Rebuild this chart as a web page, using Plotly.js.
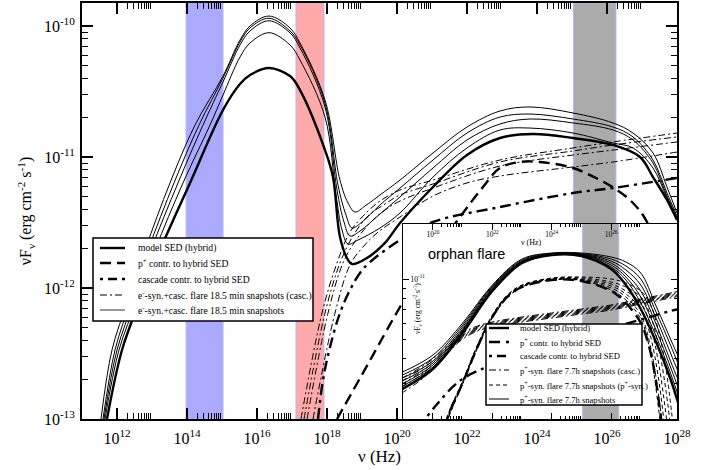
<!DOCTYPE html>
<html><head><meta charset="utf-8">
<script src="https://cdn.plot.ly/plotly-3.0.1.min.js"></script>
<style>html,body{margin:0;padding:0;background:#fff}#chart{width:712px;height:470px}</style>
</head><body><div id="chart"></div>
<script>
// ===== DATA: log10(nu / Hz) and log10(nuFnu / erg cm^-2 s^-1) =====
// main panel: hybrid model
const modelNu = [11.714,12.143,12.657,13.229,14.086,15.029,15.514,15.8,16.343,16.943,17.229,17.943,18.171,18.371,18.6,18.714,19.143,19.657,20.086,21.029,22.0,22.943,23.886,25.029,26.171,26.943,27.314,27.714,28.0];
const modelF  = [-13.0,-12.473,-12.092,-11.710,-11.198,-10.641,-10.443,-10.374,-10.321,-10.382,-10.489,-10.947,-11.153,-11.611,-11.786,-11.817,-11.771,-11.656,-11.504,-11.229,-10.985,-10.855,-10.824,-10.855,-10.908,-11.0,-11.153,-11.328,-11.481];
const protonNu = [18.286,19.171,20.086,20.943,21.8,22.457,22.943,23.514,24.086,25.029,25.8,26.286,26.743,27.143,27.514,27.8,27.971];
const protonF  = [-13.0,-12.580,-12.145,-11.771,-11.458,-11.229,-11.084,-11.038,-11.038,-11.084,-11.176,-11.252,-11.351,-11.496,-11.802,-12.321,-13.0];
const cascadeNu = [17.743,17.886,18.086,18.371,18.657,18.943,19.229,20.086,21.029,22.943,25.029,26.171,28.0];
const cascadeF  = [-13.0,-12.702,-12.450,-12.191,-12.015,-11.885,-11.802,-11.634,-11.496,-11.382,-11.275,-11.237,-11.160];
// e- synchrotron + cascade flare, 18.5 min snapshots (totals)
const snapANu = [11.543,11.857,12.314,12.8,13.514,14.229,15.029,15.514,15.8,16.343,16.943,17.229,17.943,18.371,18.6,18.8,19.086,19.514,20.086,21.029,22.0,22.943,23.8,25.029,26.171,26.743,27.314,27.714,28.0];
const snapAF  = [-13.0,-12.473,-12.092,-11.710,-11.198,-10.756,-10.382,-10.107,-10.0,-9.924,-10.015,-10.130,-10.565,-11.176,-11.351,-11.420,-11.374,-11.290,-11.176,-10.969,-10.771,-10.649,-10.618,-10.664,-10.740,-10.817,-10.969,-11.229,-11.427];
const snapBNu = [11.6,11.943,12.4,12.886,13.629,14.343,15.029,15.514,15.8,16.343,16.943,17.229,17.943,18.314,18.543,18.714,19.0,19.514,20.086,21.029,22.0,22.943,23.8,25.029,26.171,26.743,27.314,27.714,28.0];
const snapBF  = [-13.0,-12.473,-12.092,-11.710,-11.198,-10.756,-10.397,-10.122,-10.015,-9.941,-10.038,-10.145,-10.588,-11.214,-11.443,-11.542,-11.496,-11.366,-11.237,-11.023,-10.817,-10.695,-10.672,-10.710,-10.771,-10.847,-11.023,-11.275,-11.450];
const snapCNu = [11.629,12.0,12.486,12.971,13.743,14.457,15.029,15.514,15.8,16.343,16.943,17.229,17.943,18.286,18.486,18.657,18.943,19.514,20.086,21.029,22.0,22.943,23.8,25.029,26.171,26.743,27.314,27.714,28.0];
const snapCF  = [-13.0,-12.473,-12.092,-11.710,-11.198,-10.756,-10.427,-10.145,-10.038,-9.960,-10.053,-10.168,-10.618,-11.252,-11.496,-11.603,-11.565,-11.435,-11.305,-11.084,-10.870,-10.748,-10.710,-10.740,-10.794,-10.870,-11.046,-11.298,-11.466];
const snapDNu = [11.657,12.057,12.571,13.086,13.886,14.657,15.029,15.514,15.8,16.343,16.943,17.229,17.943,18.257,18.429,18.6,18.886,19.514,20.086,21.029,22.0,22.943,23.8,25.029,26.171,26.743,27.314,27.714,28.0];
const snapDF  = [-13.0,-12.473,-12.092,-11.710,-11.198,-10.756,-10.527,-10.237,-10.130,-10.051,-10.145,-10.260,-10.695,-11.290,-11.557,-11.664,-11.634,-11.542,-11.427,-11.153,-10.931,-10.794,-10.779,-10.817,-10.893,-10.931,-11.084,-11.313,-11.473];
// cascade components of the snapshots
const cascANu = [17.257,17.857,18.286,18.657,19.086,19.514,20.086,21.029,22.943,25.029,26.171,28.0];
const cascAF  = [-13.0,-12.191,-11.809,-11.573,-11.435,-11.336,-11.252,-11.176,-11.023,-10.931,-10.885,-10.817];
const cascBNu = [17.343,17.943,18.371,18.743,19.171,19.657,20.086,21.029,22.943,25.029,26.171,28.0];
const cascBF  = [-13.0,-12.191,-11.809,-11.603,-11.450,-11.359,-11.290,-11.206,-11.038,-10.954,-10.908,-10.847];
const cascCNu = [17.429,18.029,18.457,18.829,19.257,19.657,20.086,21.029,22.943,25.029,26.171,28.0];
const cascCF  = [-13.0,-12.191,-11.809,-11.634,-11.496,-11.405,-11.336,-11.237,-11.069,-10.985,-10.947,-10.885];
const cascDNu = [17.6,18.229,18.657,19.0,19.429,20.086,21.029,22.0,22.943,25.029,26.171,28.0];
const cascDF  = [-13.0,-12.191,-11.824,-11.695,-11.580,-11.458,-11.298,-11.198,-11.145,-11.076,-11.038,-10.962];

// inset ("orphan flare")
const insetNu = [18.9,20,21,22,23,24,25,26,26.5,27,27.5,28,28.3];
const insetModelF = [-11.555,-11.45,-11.27,-11.06,-10.92,-10.88,-10.885,-10.95,-11.03,-11.15,-11.31,-11.50,-11.64];
const insetSnap1F = [-11.47,-11.38,-11.22,-11.03,-10.90,-10.87,-10.87,-10.89,-10.915,-10.97,-11.13,-11.30,-11.40];
const insetSnap2F = [-11.485,-11.395,-11.23,-11.035,-10.905,-10.872,-10.873,-10.90,-10.935,-11.0,-11.16,-11.33,-11.44];
const insetSnap3F = [-11.50,-11.41,-11.24,-11.04,-10.91,-10.874,-10.876,-10.91,-10.955,-11.03,-11.19,-11.37,-11.48];
const insetSnap4F = [-11.515,-11.42,-11.25,-11.045,-10.912,-10.876,-10.878,-10.92,-10.975,-11.06,-11.22,-11.41,-11.52];
const insetSnap5F = [-11.53,-11.43,-11.255,-11.05,-10.915,-10.878,-10.88,-10.93,-10.99,-11.09,-11.25,-11.44,-11.56];
const insetSnap6F = [-11.54,-11.44,-11.26,-11.055,-10.918,-10.879,-10.882,-10.94,-11.005,-11.12,-11.28,-11.47,-11.60];
const insetProtonNu = [20.3,20.5,21,21.5,22,22.5,23,24,25,26,26.5,27,27.3,27.5,27.7];
const insetProtonF  = [-11.82,-11.69,-11.52,-11.34,-11.19,-11.09,-11.04,-11.005,-11.01,-11.06,-11.12,-11.22,-11.35,-11.50,-11.72];
const insetPSynNu = [20.3,20.5,21,21.5,22,22.5,23,24,25,26,26.5,27,27.3,27.6,27.85,28.1];
const insetPSyn1F = [-11.80,-11.68,-11.51,-11.33,-11.18,-11.08,-11.03,-10.995,-10.99,-11.0,-11.02,-11.06,-11.12,-11.26,-11.45,-11.75];
const insetPSyn2F = [-11.805,-11.685,-11.513,-11.333,-11.183,-11.083,-11.032,-10.997,-10.995,-11.015,-11.04,-11.09,-11.17,-11.34,-11.56,-11.87];
const insetPSyn3F = [-11.81,-11.69,-11.516,-11.336,-11.186,-11.086,-11.034,-10.999,-11.0,-11.025,-11.06,-11.12,-11.22,-11.42,-11.68,-12.0];
const insetPSyn4F = [-11.815,-11.695,-11.519,-11.339,-11.189,-11.089,-11.036,-11.001,-11.003,-11.035,-11.075,-11.15,-11.27,-11.5,-11.8,-12.1];
const insetPSyn5F = [-11.82,-11.70,-11.522,-11.342,-11.192,-11.092,-11.038,-11.003,-11.005,-11.045,-11.09,-11.18,-11.32,-11.58,-11.9,-12.2];
const insetPSyn6F = [-11.825,-11.705,-11.525,-11.345,-11.195,-11.095,-11.04,-11.005,-11.008,-11.055,-11.105,-11.2,-11.35,-11.65,-12.0,-12.3];
const insetCascNu = [18.9,19.5,20,20.5,21,21.5,22,23,24,25,26,27,28,28.3];
const insetCasc1F = [-11.50,-11.45,-11.40,-11.33,-11.27,-11.235,-11.215,-11.19,-11.17,-11.15,-11.13,-11.10,-11.07,-11.06];
const insetCasc2F = [-11.515,-11.46,-11.41,-11.34,-11.28,-11.24,-11.22,-11.195,-11.175,-11.155,-11.135,-11.105,-11.075,-11.065];
const insetCasc3F = [-11.53,-11.475,-11.42,-11.35,-11.285,-11.245,-11.225,-11.2,-11.18,-11.16,-11.14,-11.11,-11.08,-11.07];
const insetCasc4F = [-11.545,-11.49,-11.43,-11.36,-11.29,-11.25,-11.23,-11.205,-11.185,-11.165,-11.145,-11.115,-11.085,-11.075];
const insetCasc5F = [-11.56,-11.50,-11.44,-11.365,-11.295,-11.255,-11.235,-11.21,-11.19,-11.17,-11.15,-11.12,-11.09,-11.08];
const insetCasc6F = [-11.575,-11.515,-11.45,-11.37,-11.30,-11.26,-11.24,-11.215,-11.195,-11.175,-11.155,-11.125,-11.095,-11.085];
const insetCascModelNu = [19.5,20.09,21.03,22.94,25.03,26.17,28.0,28.3];
const insetCascModelF  = [-11.75,-11.634,-11.496,-11.382,-11.275,-11.237,-11.16,-11.15];

// observing bands (Hz)
const bandOptical = [9.4e13, 1.07e15];
const bandXray = [1.3e17, 8.2e17];
const bandGamma = [1.1e25, 1.8e26];

// tick labels
const mainXTickExp = [12,14,16,18,20,22,24,26,28];
const mainYTickExp = [-13,-12,-11,-10];
const insetXTickExp = [20,22,24,26];
const insetYTickExp = [-11];

// legend labels
const mainLegend = ['model SED (hybrid)','p<sup>+</sup> contr. to hybrid SED','cascade contr. to hybrid SED','e<sup>-</sup>-syn.+casc. flare 18.5 min snapshots (casc.)','e<sup>-</sup>-syn.+casc. flare 18.5 min snapshots'];
const insetLegend = ['model SED (hybrid)','p<sup>+</sup> contr. to hybrid SED','cascade contr. to hybrid SED','p<sup>+</sup>-syn. flare 7.7h snapshots (casc.)','p<sup>+</sup>-syn. flare 7.7h snapshots (p<sup>+</sup>-syn.)','p<sup>+</sup>-syn. flare 7.7h snapshots'];

// ===== styles =====
const SERIF = 'Liberation Serif, Times New Roman, serif';
const S = {
  thick:      {color:'#000', width:2.4},
  thin:       {color:'#000', width:1},
  thickDash:  {color:'#000', width:2.4, dash:'11px,6px'},
  thickDot:   {color:'#000', width:2.4, dash:'11px,5px,3px,5px'},
  thinDashDot:{color:'#000', width:1, dash:'7px,3px,2px,3px'},
  thinDash:   {color:'#000', width:1, dash:'4px,3px'}
};
const pow10 = v => Math.pow(10, v);
function curve(nu, f, style, xa, ya) {
  return {type:'scatter', mode:'lines', x: nu.map(pow10), y: f.map(pow10),
    line: Object.assign({shape:'spline', smoothing:1}, style),
    xaxis: xa || 'x', yaxis: ya || 'y', hoverinfo:'skip', showlegend:false};
}
// inset gamma band as a filled trace (spans the inset's full height; clipped by the axes)
const insetBand = {type:'scatter', mode:'lines', xaxis:'x2', yaxis:'y2', hoverinfo:'skip', showlegend:false,
  x:[bandGamma[0], bandGamma[1], bandGamma[1], bandGamma[0], bandGamma[0]],
  y:[1e-14, 1e-14, 1e-8, 1e-8, 1e-14], fill:'toself', fillcolor:'#ababab', line:{color:'#b4b4ff', width:1}};

const traces = [
  curve(cascANu, cascAF, S.thinDashDot), curve(cascBNu, cascBF, S.thinDashDot),
  curve(cascCNu, cascCF, S.thinDashDot), curve(cascDNu, cascDF, S.thinDashDot),
  curve(snapANu, snapAF, S.thin), curve(snapBNu, snapBF, S.thin),
  curve(snapCNu, snapCF, S.thin), curve(snapDNu, snapDF, S.thin),
  curve(protonNu, protonF, S.thickDash),
  curve(cascadeNu, cascadeF, S.thickDot),
  curve(modelNu, modelF, S.thick),
  // inset
  insetBand,
  ...[insetCasc1F,insetCasc2F,insetCasc3F,insetCasc4F,insetCasc5F,insetCasc6F].map(f => curve(insetCascNu, f, S.thinDashDot, 'x2','y2')),
  ...[insetPSyn1F,insetPSyn2F,insetPSyn3F,insetPSyn4F,insetPSyn5F,insetPSyn6F].map(f => curve(insetPSynNu, f, S.thinDash, 'x2','y2')),
  ...[insetSnap1F,insetSnap2F,insetSnap3F,insetSnap4F,insetSnap5F,insetSnap6F].map(f => curve(insetNu, f, S.thin, 'x2','y2')),
  curve(insetProtonNu, insetProtonF, S.thickDash, 'x2','y2'),
  curve(insetCascModelNu, insetCascModelF, S.thickDot, 'x2','y2'),
  curve(insetNu, insetModelF, S.thick, 'x2','y2')
];

// ===== layout helpers (pixel -> paper) =====
const PL = 82, PR = 677, PT = 3, PB = 419;
const fx = x => (x - PL) / (PR - PL);
const fy = y => (PB - y) / (PB - PT);
const sup = p => '10<sup>' + p + '</sup>';
function minorVals(exps) { const out=[]; exps.forEach(n => { for (let k=2;k<=9;k++) out.push(k*Math.pow(10,n)); }); return out; }

const shapes = [];
const annotations = [];
// bands (main panel)
[[bandOptical,'#aaaaff'],[bandXray,'#ffaaaa'],[bandGamma,'#ababab']].forEach(([b,c]) => {
  shapes.push({type:'rect', xref:'x', yref:'y domain', x0:b[0], x1:b[1], y0:0, y1:1, fillcolor:c, line:{color:'#b4b4ff', width:1}, layer:'below'});
});

// manual legends
function legendBox(x0, y0, x1, y1, rows, styles, sx0, sx1, tx, fs) {
  shapes.push({type:'rect', xref:'paper', yref:'paper', x0:fx(x0), x1:fx(x1), y0:fy(y1), y1:fy(y0), fillcolor:'#fff', line:{color:'#000', width:1.5}, layer:'above'});
  rows.forEach((r, i) => {
    shapes.push({type:'line', xref:'paper', yref:'paper', x0:fx(sx0), x1:fx(sx1), y0:fy(r.y), y1:fy(r.y), line:Object.assign({}, styles[i]), layer:'above'});
    annotations.push({xref:'paper', yref:'paper', x:fx(tx), y:fy(r.y), xanchor:'left', yanchor:'middle', showarrow:false, text:r.t, font:{family:SERIF, size:fs, color:'#000'}});
  });
}
const mainRowY = [248, 263, 279, 295, 310];
legendBox(93, 238, 313, 321, mainLegend.map((t,i)=>({t, y:mainRowY[i]})),
  [S.thick, S.thickDash, {color:'#000', width:2.4, dash:'3px,5px,9px,5px'}, S.thinDashDot, {color:'#777', width:1.5}], 100, 125, 136, 9.6);
const insetRowY = [328, 342, 356, 370, 385, 399];
legendBox(486, 324, 642, 405, insetLegend.map((t,i)=>({t, y:insetRowY[i]})),
  [S.thick, S.thickDash, {color:'#000', width:2.4, dash:'3px,5px,9px,5px'}, S.thinDashDot, S.thinDash, S.thin], 489, 509, 518, 8.6);

annotations.push({xref:'paper', yref:'paper', x:fx(466), y:fy(254), xanchor:'center', yanchor:'middle', showarrow:false, text:'orphan flare', font:{family:'Liberation Sans, Arial, sans-serif', size:14.5, color:'#000'}});
annotations.push({xref:'paper', yref:'paper', x:fx(531), y:fy(242), xanchor:'center', yanchor:'middle', showarrow:false, text:'ν (Hz)', font:{family:SERIF, size:8, color:'#000'}});
annotations.push({xref:'paper', yref:'paper', x:fx(417), y:fy(309), xanchor:'center', yanchor:'middle', showarrow:false, textangle:-90, text:'νF<sub>ν</sub> (erg cm<sup>-2</sup> s<sup>-1</sup>)', font:{family:SERIF, size:7.5, color:'#000'}});

const axCommon = {type:'log', showgrid:false, zeroline:false, showline:true, linecolor:'#000', mirror:'allticks', ticks:'inside', tickcolor:'#000', tickmode:'array'};

const layout = {
  width:712, height:470,
  margin:{l:PL, r:712-PR, t:PT, b:470-PB, pad:0},
  paper_bgcolor:'#fff', plot_bgcolor:'#fff', showlegend:false,
  xaxis: Object.assign({}, axCommon, {
    domain:[0,1], anchor:'y', range:[11,28], linewidth:2, ticklen:11, tickwidth:1.5,
    tickvals: mainXTickExp.map(pow10), ticktext: mainXTickExp.map(sup),
    tickfont:{family:SERIF, size:16, color:'#000'}, ticklabelstandoff:4,
    minor:{tickmode:'array', tickvals:minorVals([12,14,16,18,20,22,24,26]), ticks:'inside', ticklen:6, tickwidth:1, tickcolor:'#000', showgrid:false},
    title:{text:'ν (Hz)', font:{family:SERIF, size:17, color:'#000'}, standoff:0}
  }),
  yaxis: Object.assign({}, axCommon, {
    domain:[0,1], anchor:'x', range:[-13, -9.8244], linewidth:2, ticklen:11, tickwidth:1.5,
    tickvals: mainYTickExp.map(pow10), ticktext: mainYTickExp.map(sup),
    tickfont:{family:SERIF, size:16, color:'#000'}, ticklabelstandoff:2,
    minor:{tickmode:'array', tickvals:minorVals([-13,-12,-11,-10]), ticks:'inside', ticklen:6, tickwidth:1, tickcolor:'#000', showgrid:false},
    title:{text:'νF<sub>ν</sub> (erg cm<sup>-2</sup> s<sup>-1</sup>)', font:{family:SERIF, size:16, color:'#000'}, standoff:8}
  }),
  xaxis2: Object.assign({}, axCommon, {
    domain:[fx(403),1], anchor:'y2', side:'top', range:[18.99, 28.22], linewidth:1.5, ticklen:6, tickwidth:1,
    tickvals: insetXTickExp.map(pow10), ticktext: insetXTickExp.map(sup), ticklabelposition:'inside',
    tickfont:{family:SERIF, size:7.5, color:'#000'},
    minor:{tickmode:'array', tickvals:minorVals([20,22,24,26]), ticks:'inside', ticklen:3, tickwidth:1, tickcolor:'#000', showgrid:false}
  }),
  yaxis2: Object.assign({}, axCommon, {
    domain:[0,fy(224)], anchor:'x2', range:[-11.70, -10.725], linewidth:1.5, ticklen:6, tickwidth:1,
    tickvals: insetYTickExp.map(pow10), ticktext: insetYTickExp.map(sup), ticklabelposition:'inside',
    tickfont:{family:SERIF, size:7.5, color:'#000'},
    minor:{tickmode:'array', tickvals:minorVals([-12]), ticks:'inside', ticklen:3, tickwidth:1, tickcolor:'#000', showgrid:false}
  }),
  shapes, annotations
};

Plotly.newPlot('chart', traces, layout, {displayModeBar:false, staticPlot:true});
</script></body></html>
